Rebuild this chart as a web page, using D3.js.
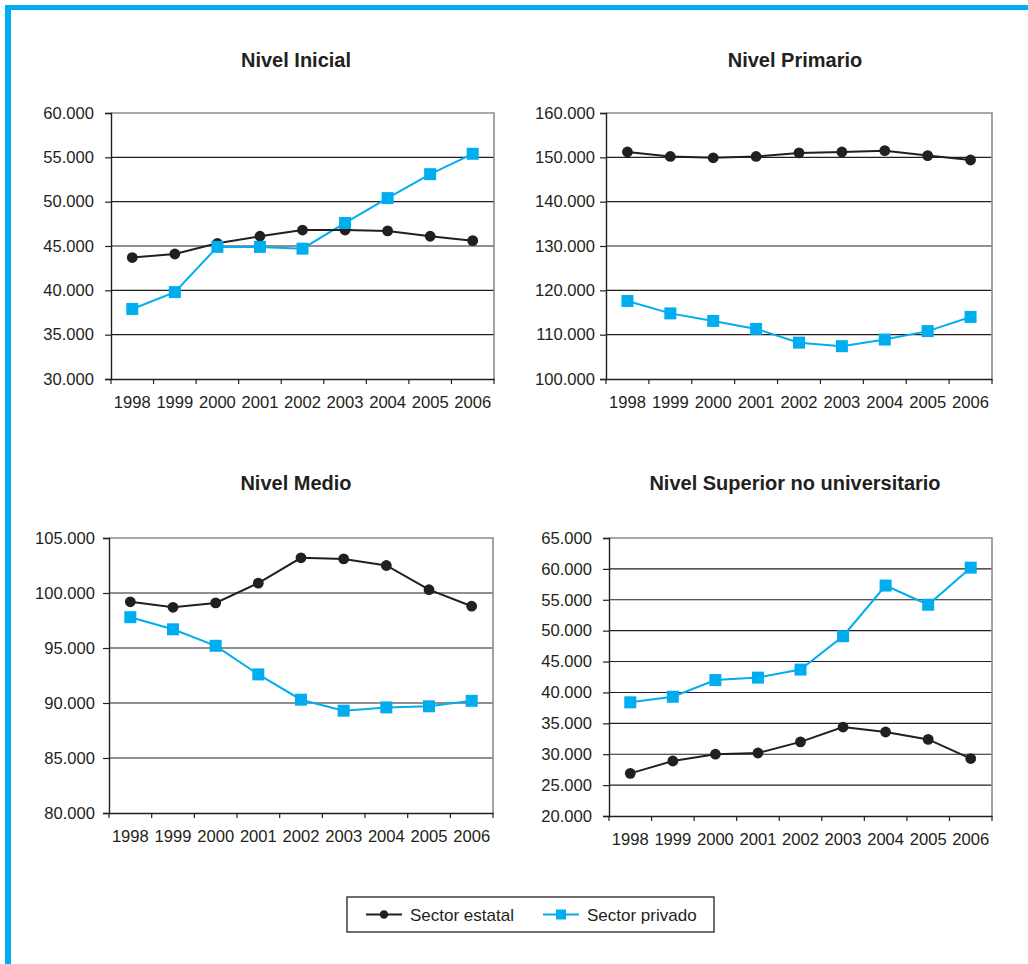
<!DOCTYPE html>
<html>
<head>
<meta charset="utf-8">
<script src="https://cdn.jsdelivr.net/npm/d3@7"></script>
<style>
  html, body { margin: 0; padding: 0; background: #fff; }
  svg { display: block; font-family: "Liberation Sans", Arial, sans-serif; }
</style>
</head>
<body>
<svg id="chart" width="1028" height="964"></svg>
<script>
// ---------- DATA ----------
const years = ["1998","1999","2000","2001","2002","2003","2004","2005","2006"];

const inicialEstatal  = [43700, 44100, 45300, 46100, 46800, 46800, 46700, 46100, 45600];
const inicialPrivado  = [37900, 39800, 44900, 44900, 44700, 47600, 50400, 53100, 55400];

const primarioEstatal = [151200, 150200, 149900, 150200, 151000, 151200, 151500, 150400, 149400];
const primarioPrivado = [117600, 114800, 113100, 111300, 108200, 107400, 108900, 110800, 114000];

const medioEstatal    = [99200, 98700, 99100, 100900, 103200, 103100, 102500, 100300, 98800];
const medioPrivado    = [97800, 96700, 95200, 92600, 90300, 89300, 89600, 89700, 90200];

const superiorEstatal = [26900, 28900, 30000, 30200, 32000, 34400, 33600, 32400, 29300];
const superiorPrivado = [38400, 39300, 42000, 42400, 43700, 49100, 57300, 54200, 60200];

const titles = ["Nivel Inicial", "Nivel Primario", "Nivel Medio", "Nivel Superior no universitario"];
const yTicksInicial  = [30000, 35000, 40000, 45000, 50000, 55000, 60000];
const yTicksPrimario = [100000, 110000, 120000, 130000, 140000, 150000, 160000];
const yTicksMedio    = [80000, 85000, 90000, 95000, 100000, 105000];
const yTicksSuperior = [20000, 25000, 30000, 35000, 40000, 45000, 50000, 55000, 60000, 65000];
const seriesNames = ["Sector estatal", "Sector privado"];

// ---------- STYLE / LAYOUT ----------
const BLUE = "#00AEEF";
const DARK = "#231F20";
const fmt = d3.formatLocale({decimal: ",", thousands: ".", grouping: [3], currency: ["$", ""]}).format(",.0f");

const svg = d3.select("#chart");

// frame
svg.append("rect").attr("x", 5).attr("y", 5).attr("width", 1023).attr("height", 5).attr("fill", BLUE);
svg.append("rect").attr("x", 5).attr("y", 5).attr("width", 6).attr("height", 959).attr("fill", BLUE);

const panels = [
  {title: titles[0], est: inicialEstatal, pri: inicialPrivado, ticks: yTicksInicial,
   l: 111, r: 494, t: 113, b: 379, tx: 296, ty: 67, gap: 17},
  {title: titles[1], est: primarioEstatal, pri: primarioPrivado, ticks: yTicksPrimario,
   l: 606, r: 992, t: 113, b: 379, tx: 795, ty: 67, gap: 11},
  {title: titles[2], est: medioEstatal, pri: medioPrivado, ticks: yTicksMedio,
   l: 109, r: 493, t: 538, b: 813, tx: 296, ty: 490, gap: 14},
  {title: titles[3], est: superiorEstatal, pri: superiorPrivado, ticks: yTicksSuperior,
   l: 609, r: 992, t: 538, b: 816, tx: 795, ty: 490, gap: 17}
];

panels.forEach(p => {
  const g = svg.append("g");
  const x = d3.scaleBand().domain(years).range([p.l, p.r]);
  const y = d3.scaleLinear().domain(d3.extent(p.ticks)).range([p.b, p.t]);

  // title
  g.append("text").attr("x", p.tx).attr("y", p.ty).attr("text-anchor", "middle")
    .attr("font-size", 20).attr("font-weight", "bold").attr("fill", DARK).text(p.title);

  // gridlines
  g.selectAll("line.grid").data(p.ticks.slice(1, -1)).enter().append("line")
    .attr("x1", p.l).attr("x2", p.r).attr("y1", d => y(d)).attr("y2", d => y(d))
    .attr("stroke", DARK).attr("stroke-width", 1.1);

  // top & right border (gray)
  g.append("path")
    .attr("d", `M${p.l},${y(p.ticks[p.ticks.length-1])}H${p.r}V${p.b}`)
    .attr("fill", "none").attr("stroke", "#8a8d90").attr("stroke-width", 1.6);

  // y axis
  const yAxis = d3.axisLeft(y).tickValues(p.ticks).tickFormat(fmt).tickSize(6).tickPadding(p.gap - 6);
  const ya = g.append("g").attr("transform", `translate(${p.l},0)`).call(yAxis);
  ya.select(".domain").attr("stroke", DARK).attr("stroke-width", 1.4);
  ya.selectAll(".tick line").attr("stroke", DARK).attr("stroke-width", 1.2);
  ya.selectAll("text").attr("font-size", 16.6).attr("fill", DARK)
    .attr("font-family", "Liberation Sans, Arial, sans-serif");

  // x axis
  const xa = g.append("g").attr("transform", `translate(0,${p.b})`)
    .call(d3.axisBottom(x).tickSize(0).tickPadding(17));
  xa.select(".domain").attr("stroke", DARK).attr("stroke-width", 1.4);
  xa.selectAll("text").attr("font-size", 16.6).attr("fill", DARK)
    .attr("font-family", "Liberation Sans, Arial, sans-serif");
  // category boundary ticks
  const bounds = years.map(d => x(d)).concat([p.r]);
  g.selectAll("line.xt").data(bounds).enter().append("line")
    .attr("x1", d => d).attr("x2", d => d).attr("y1", p.b).attr("y2", p.b + 5)
    .attr("stroke", DARK).attr("stroke-width", 1.2);

  const cx = d => x(d) + x.bandwidth() / 2;
  const line = d3.line().x((d, i) => cx(years[i])).y(d => y(d));

  // private series
  g.append("path").datum(p.pri).attr("d", line).attr("fill", "none")
    .attr("stroke", BLUE).attr("stroke-width", 2);
  // state series
  g.append("path").datum(p.est).attr("d", line).attr("fill", "none")
    .attr("stroke", DARK).attr("stroke-width", 2);

  g.selectAll("circle.est").data(p.est).enter().append("circle")
    .attr("cx", (d, i) => cx(years[i])).attr("cy", d => y(d)).attr("r", 5.4).attr("fill", DARK);
  g.selectAll("rect.pri").data(p.pri).enter().append("rect")
    .attr("x", (d, i) => cx(years[i]) - 6).attr("y", d => y(d) - 6)
    .attr("width", 12).attr("height", 12).attr("fill", BLUE);
});

// legend
const lg = svg.append("g");
lg.append("rect").attr("x", 347).attr("y", 897).attr("width", 367).attr("height", 35)
  .attr("fill", "#fff").attr("stroke", DARK).attr("stroke-width", 1.3);
const legendItems = [
  {name: seriesNames[0], color: DARK, shape: "circle", x0: 366},
  {name: seriesNames[1], color: BLUE, shape: "square", x0: 543}
];
legendItems.forEach(it => {
  const ly = 914.5;
  lg.append("line").attr("x1", it.x0).attr("x2", it.x0 + 36).attr("y1", ly).attr("y2", ly)
    .attr("stroke", it.color).attr("stroke-width", 2);
  if (it.shape === "circle") {
    lg.append("circle").attr("cx", it.x0 + 18).attr("cy", ly).attr("r", 4.2).attr("fill", it.color);
  } else {
    lg.append("rect").attr("x", it.x0 + 18 - 5).attr("y", ly - 5).attr("width", 10).attr("height", 10).attr("fill", it.color);
  }
  lg.append("text").attr("x", it.x0 + 44).attr("y", ly + 6).attr("font-size", 17)
    .attr("fill", DARK).text(it.name);
});
</script>
</body>
</html>
